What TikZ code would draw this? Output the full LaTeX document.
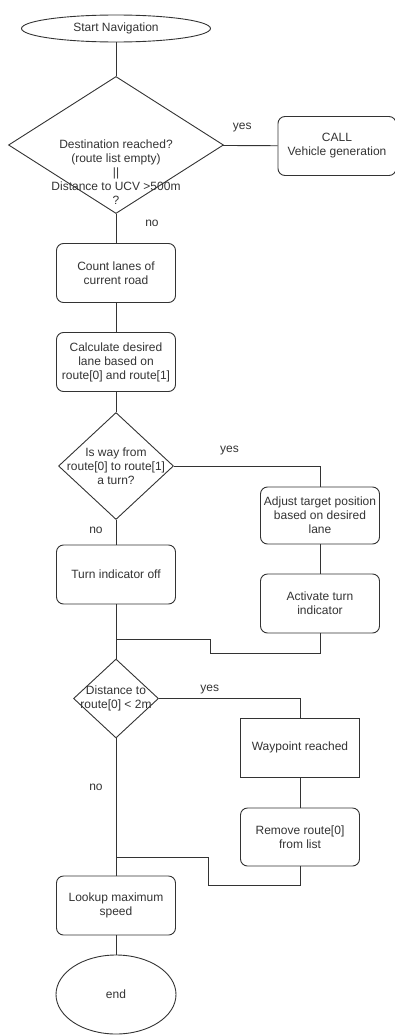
\documentclass[tikz,border=0pt]{standalone}
\usepackage{fontspec}
\setmainfont{Liberation Sans}
\usetikzlibrary{shapes.geometric}
\begin{document}
\begin{tikzpicture}[x=1pt, y=-1pt, color=black!80, line width=0.9pt]
		\tikzstyle{every node}+=[inner sep=0pt, font=\fontsize{12}{14}\selectfont]
		\tikzstyle{terminal}=[draw, ellipse]
		\tikzstyle{process}=[draw, rectangle, rounded corners=7pt, minimum width=119, minimum height=59, align=center]
		\tikzstyle{sharpbox}=[draw, rectangle, minimum width=119, minimum height=59, align=center]
		\tikzstyle{decision}=[draw, diamond]
		\tikzstyle{inside}=[align=center]
		\tikzstyle{lbl}=[]
		\useasboundingbox (0,0) rectangle (395,1036);
		\node [terminal, minimum width=189, minimum height=27] (start) at (116,28.5) {Start Navigation};
		\node [decision, minimum width=215, minimum height=137, label={[inside, yshift=-27]center:{Destination reached?\\(route list empty)\\||\\Distance to UCV >500m\\?}}] (dest) at (116,145) {};
		\node [process, minimum width=118] (call) at (337,146) {CALL\\Vehicle generation};
		\node [process] (count) at (116,273) {Count lanes of\\current road};
		\node [process] (calc) at (116,362) {Calculate desired\\lane based on\\route[0] and route[1]};
		\node [decision, minimum width=115, minimum height=107, label={[inside]center:{Is way from\\route[0] to route[1]\\a turn?}}] (turn) at (116,466) {};
		\node [process, minimum height=57] (adjust) at (320,515.5) {Adjust target position\\based on desired\\lane};
		\node [process] (activate) at (320,603.5) {Activate turn\\indicator};
		\node [process] (turnoff) at (116,574.5) {Turn indicator off};
		\node [decision, minimum width=85, minimum height=79, label={[inside]center:{Distance to\\route[0] < 2m}}] (dist) at (116,698.5) {};
		\node [sharpbox] (waypoint) at (300,747.5) {Waypoint reached};
		\node [process, minimum height=58] (remove) at (300,837) {Remove route[0]\\from list};
		\node [process] (lookup) at (116,905.5) {Lookup maximum\\speed};
		\node [terminal, minimum width=120, minimum height=79] (finish) at (116,994.5) {end};
		\coordinate (join1) at (116,639);
		\coordinate (bend1) at (210,653);
		\coordinate (join2) at (116,857);
		\coordinate (bend2) at (208,885);
		\draw (start) -- (dest);
		\draw (dest) -- node [lbl, pos=.35, yshift=18] (yes1) {yes} (call);
		\draw (dest) -- node [lbl, pos=.33, xshift=36] (no1) {no} (count);
		\draw (count) -- (calc);
		\draw (calc) -- (turn);
		\draw (turn.east) -| node [lbl, pos=.19, yshift=15] (yes2) {yes} (adjust.north);
		\draw (turn) -- node [lbl, pos=.42, xshift=-20] (no2) {no} (turnoff);
		\draw (adjust) -- (activate);
		\draw (turnoff) -- (dist);
		\draw (activate) |- (bend1) |- (join1);
		\draw (dist.east) -| node [lbl, pos=.18, yshift=9] (yes3) {yes} (waypoint.north);
		\draw (waypoint) -- (remove);
		\draw (dist) -- node [lbl, pos=.36, xshift=-20] (no3) {no} (lookup);
		\draw (remove) |- (bend2) |- (join2);
		\draw (lookup) -- (finish);
	\end{tikzpicture}
\end{document}
